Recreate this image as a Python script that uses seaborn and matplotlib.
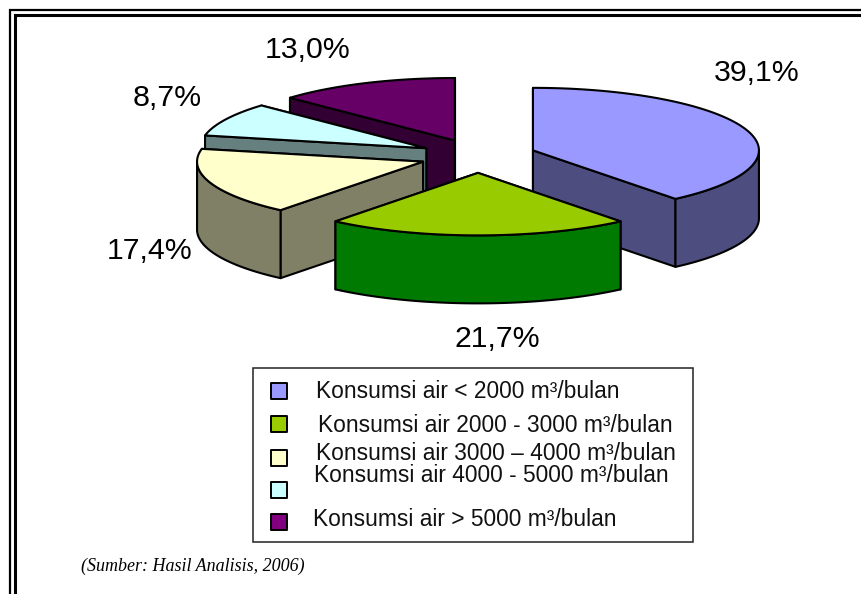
import numpy as np
import pandas as pd
import matplotlib
matplotlib.use("Agg")
import matplotlib.pyplot as plt
from matplotlib.patches import Polygon, Rectangle
import seaborn as sns

# values
categories = [
    "Konsumsi air < 2000 m³/bulan",
    "Konsumsi air 2000 - 3000 m³/bulan",
    "Konsumsi air 3000 – 4000 m³/bulan",
    "Konsumsi air 4000 - 5000 m³/bulan",
    "Konsumsi air > 5000 m³/bulan",
]
shares = [39.1, 21.7, 17.4, 8.7, 13.0]
share_labels = ["39,1%", "21,7%", "17,4%", "8,7%", "13,0%"]
source_text = "(Sumber: Hasil Analisis, 2006)"

top_colors = ["#9999ff", "#99cc00", "#ffffcc", "#ccffff", "#660066"]
wall_colors = ["#4d4d80", "#007a00", "#808066", "#668080", "#330033"]
key_colors = ["#9999ff", "#99cc00", "#ffffcc", "#ccffff", "#800080"]

# pie geometry in pixels
cx, cy = 478, 156
rx, ry = 226, 62.5
depth = 68
explode_x, explode_y = 0.258, 0.27

sns.set_theme(style="white")
plt.rcParams["font.family"] = ["Liberation Sans"]

fig = plt.figure(figsize=(8.61, 5.94), dpi=100)
ax = fig.add_axes([0, 0, 1, 1])
ax.set_xlim(0, 861)
ax.set_ylim(594, 0)
ax.axis("off")

# double frame, only left and top sides
ax.plot([10, 10, 861], [594, 10, 10], color="black", lw=1.6, solid_joinstyle="miter")
ax.plot([14.5, 14.5, 861], [594, 15, 15], color="black", lw=2.2, solid_joinstyle="miter")


def point(ox, oy, theta):
    return ox + rx * np.sin(theta), oy - ry * np.cos(theta)


def face(xy, color, z):
    ax.add_patch(Polygon(xy, closed=True, facecolor=color, edgecolor="black",
                         lw=1.5, joinstyle="round", zorder=z))


edges = np.radians(np.cumsum([0] + shares) / sum(shares) * 360)

# back slices first
draw_order = [4, 3, 2, 0, 1]
for z, i in enumerate(draw_order):
    start, end = edges[i], edges[i + 1]
    mid = (start + end) / 2
    ox = cx + rx * explode_x * np.sin(mid)
    oy = cy - ry * explode_y * np.cos(mid)
    base = 10 + z * 5

    # flat cut faces, the ones facing away go first
    cuts = [(start, start - np.pi / 2), (end, end + np.pi / 2)]
    for k, (angle, normal) in enumerate(sorted(cuts, key=lambda c: np.cos(c[1]), reverse=True)):
        px, py = point(ox, oy, angle)
        face([(ox, oy), (px, py), (px, py + depth), (ox, oy + depth)], wall_colors[i], base + k)

    # curved outer wall, only the front half shows
    lo, hi = max(start, np.pi / 2), min(end, 3 * np.pi / 2)
    if hi > lo:
        t = np.linspace(lo, hi, 80)
        ax_x, ax_y = point(ox, oy, t)
        wall = list(zip(ax_x, ax_y)) + list(zip(ax_x[::-1], ax_y[::-1] + depth))
        face(wall, wall_colors[i], base + 2)

    # top face
    t = np.linspace(start, end, 120)
    ax_x, ax_y = point(ox, oy, t)
    face([(ox, oy)] + list(zip(ax_x, ax_y)), top_colors[i], base + 3)

# percent labels
label_pos = [(757, 73), (497, 339), (150, 251), (167, 98), (308, 50)]
for lab, (lx, ly) in zip(share_labels, label_pos):
    ax.text(lx, ly, lab, fontsize=21.8, color="black", ha="center", va="center",
            family="Liberation Sans", zorder=50)

# legend box
ax.add_patch(Rectangle((253, 368), 440, 174, facecolor="white", edgecolor="#222222",
                       lw=1.1, zorder=60))
key_y = [391, 424, 458, 490, 522]
text_x = [316, 317.5, 316, 314, 313]
text_y = [391, 425, 454, 476, 519]
keys = pd.DataFrame({"x": [279] * 5, "y": key_y, "cat": categories})
sns.scatterplot(data=keys, x="x", y="y", hue="cat", palette=key_colors, marker="s",
                s=125, edgecolor="black", linewidth=1.4, legend=False, ax=ax, zorder=61)
ax.set_xlim(0, 861)
ax.set_ylim(594, 0)
ax.axis("off")
for lab, tx, ty in zip(categories, text_x, text_y):
    ax.text(tx, ty, lab, fontsize=16.4, color="#111111", ha="left", va="center",
            family="Liberation Sans", zorder=62)

ax.text(81, 566, source_text, fontsize=13, style="italic", color="black", ha="left",
        va="center", family="Liberation Serif", zorder=62)

fig.savefig("out.png", dpi=100)
